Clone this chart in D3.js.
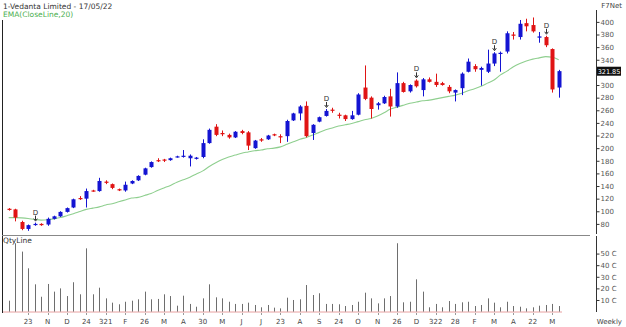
<!DOCTYPE html>
<html><head><meta charset="utf-8">
<script src="https://cdn.jsdelivr.net/npm/d3@7"></script>
<style>
body{margin:0;background:#fff;}
svg{display:block;font-family:"DejaVu Sans",Verdana,sans-serif;}
</style></head><body>
<svg id="c" width="626" height="327"></svg>
<script>
// ---- data (weekly candles, Vedanta) ----
const opens  = [104,103,83,72,79,80,79,88,92,99,106,121,120,133,132,147,143,135,133,144,149,158,170,181,182,181,186,187,184,183,186,208,234,224,221,217,227,225,200,214,214,222,219,219,244,255,267,224,242,251,261,253,252,246,253,296,280,268,271,282,266,303,290,307,292,309,305,303,297,288,295,321,330,324,321,334,350,353,380,376,398,395,375,376,357,296];
const highs  = [105,104,85,79,82,81,90,93,100,106,120,124,136,134,153,149,144,136,147,149,157,169,179,184,183,185,188,197,190,186,214,231,238,228,223,227,229,227,213,216,221,223,222,245,256,268,274,238,250,262,264,256,253,259,287,331,282,273,283,294,320,305,301,309,311,312,318,305,300,293,320,342,333,329,356,352,353,385,384,403,405,407,384,378,358,324];
const lows   = [101,84,70,69,77,77,77,87,91,98,105,118,106,131,131,143,135,132,131,143,148,157,169,178,178,180,185,185,171,182,184,207,219,219,215,216,222,197,199,210,213,219,208,210,243,244,217,213,241,250,256,247,243,245,252,276,247,261,270,250,264,288,288,296,282,304,297,299,287,274,284,320,321,299,319,330,321,350,372,372,385,383,367,360,288,280];
const closes = [103,90,72,78,80,78,88,92,99,105,119,120,132,132,148,145,137,133,142,148,156,168,178,180,181,184,187,188,188,185,208,229,221,222,217,226,224,204,212,212,220,221,217,243,255,266,219,237,249,259,260,252,246,252,285,278,262,271,281,266,303,289,300,298,309,305,300,300,290,292,318,337,325,327,334,350,351,382,378,397,393,385,377,363,293,322];
const volumes = [9.4,58.9,51.7,37.3,23.5,12.8,23.8,17.2,20,13.4,25.3,14.9,54.5,14.9,20.6,11.4,7.7,6.3,8.5,9.4,10.6,17.2,10.6,10.9,14.9,13.4,5.1,13.7,6.6,4.2,11.4,23.5,12.3,11.4,8.5,6.6,6.6,7.7,5.7,3.7,5.7,3.4,2.8,12,10,10.6,22.9,14.3,15.8,6.6,6.6,6.3,4.8,5.7,8.5,16.3,11.4,7.1,11.4,13.4,58.9,8,8.5,27.8,17.2,3.7,6.6,3.7,9.1,6.6,8,8.5,4.8,5.7,11.4,7.7,3.7,8.5,4.8,4.2,2.8,3.7,5.1,5.7,6.6,4.8];
const ema20 = [90,90,89.5,88.5,87,86,86.5,88,90,93,96,99.5,103,105,107,110,112,115,118,121,122,125,128,133,137,141,146,150,154,159,164,171,177,182,186,189,192,194,196,197,199,200,202,206,210,214,217,221,225,229,232,235,237,239,242,245,247,251,256,262,265,268,271,273,275,276,278,280,282,284,287,291,294,298,303,308,316,322,329,334,338,341,343,345,344,340];
const signalWeeks = [4,49,63,75,83];
const tickWeeks  = [3,6,9,12,15,18,21,24,27,30,33,36,39,42,45,48,51,54,57,60,63,66,69,72,75,78,81,84];
const tickLabels = ["23","N","D","24","321","F","26","M","A","30","M","J","J","23","A","S","24","O","N","26","D","322","28","F","M","A","22","M"];
// 320 is hidden behind the last-price box in the reference
const priceTicks = [80,100,120,140,160,180,200,220,240,260,280,300,340,360,380,400];
const volTicks = [10,20,30,40,50];
const lastPrice = "321.85";

const candles = opens.map((o,i)=>({i,o,h:highs[i],l:lows[i],c:closes[i],v:volumes[i],e:ema20[i]}));

const svg = d3.select("#c");
const x = d3.scaleLinear().domain([0,85]).range([8.7,558.7]);
const y = d3.scaleLinear().domain([64,422]).range([234,8]);
const yv = d3.scaleLinear().domain([0,66]).range([311.6,235]);
const BLUE="#1414d2", RED="#e01414";
const col = d=> d.c>=d.o ? BLUE : RED;

// frame
svg.append("line").attr("x1",2.5).attr("x2",2.5).attr("y1",20).attr("y2",313).attr("stroke","#222");
svg.append("line").attr("x1",2).attr("x2",590).attr("y1",235.5).attr("y2",235.5).attr("stroke","#888");

// title texts
svg.append("text").attr("x",3).attr("y",9).attr("font-size",7.5).attr("fill","#333").text("1-Vedanta Limited - 17/05/22");
svg.append("text").attr("x",3).attr("y",17).attr("font-size",7.5).attr("fill","#4caf50").text("EMA(CloseLine,20)");
svg.append("text").attr("x",622).attr("y",8).attr("font-size",7).attr("fill","#444").attr("text-anchor","end").text("F7Net");
svg.append("text").attr("x",3).attr("y",243).attr("font-size",7.5).attr("fill","#333").text("QtyLine");
svg.append("text").attr("x",622).attr("y",324).attr("font-size",7).attr("fill","#444").attr("text-anchor","end").text("Weekly");

// price axis
const ay = svg.append("g").attr("transform","translate(596.5,0)")
  .call(d3.axisRight(y).tickValues(priceTicks).tickSize(3).tickPadding(1));
ay.select(".domain").attr("stroke","#333").attr("d","M0,10V234");
ay.selectAll(".tick line").attr("stroke","#333");
ay.selectAll("text").attr("font-size",7).attr("fill","#555").attr("font-family","DejaVu Sans");

// volume axis
const av = svg.append("g").attr("transform","translate(596.5,0)")
  .call(d3.axisRight(yv).tickValues(volTicks).tickSize(3).tickPadding(1).tickFormat(d=>d+" C"));
av.select(".domain").attr("stroke","#333").attr("d","M0,236V312");
av.selectAll(".tick line").attr("stroke","#333");
av.selectAll("text").attr("font-size",7).attr("fill","#555").attr("font-family","DejaVu Sans");

// last price box
const lp = y(+lastPrice);
svg.append("rect").attr("x",597).attr("y",lp-4.5).attr("width",24).attr("height",9).attr("fill","#111");
svg.append("text").attr("x",609).attr("y",lp+2.5).attr("font-size",6.5).attr("fill","#fff").attr("text-anchor","middle").text(lastPrice);

// EMA line
svg.append("path").datum(candles)
  .attr("d", d3.line().x(d=>x(d.i)).y(d=>y(d.e)).curve(d3.curveMonotoneX))
  .attr("fill","none").attr("stroke","#8fcf8f").attr("stroke-width",1.1);

// candles
const g = svg.append("g");
g.selectAll("line.w").data(candles).join("line").attr("class","w")
  .attr("x1",d=>Math.round(x(d.i))+0.5).attr("x2",d=>Math.round(x(d.i))+0.5)
  .attr("y1",d=>y(d.h)).attr("y2",d=>y(d.l)).attr("stroke",col).attr("stroke-width",1);
g.selectAll("rect.b").data(candles).join("rect").attr("class","b")
  .attr("x",d=>Math.round(x(d.i))-1.5).attr("width",4)
  .attr("y",d=>y(Math.max(d.o,d.c)))
  .attr("height",d=>Math.max(1.2, Math.abs(y(d.o)-y(d.c))))
  .attr("fill",col);

// D signals
const sg = svg.append("g");
signalWeeks.forEach(i=>{
  const d=candles[i]; const cx=Math.round(x(d.i))+0.5; const top=y(d.h);
  sg.append("text").attr("x",cx).attr("y",top-8).attr("font-size",7).attr("fill","#333").attr("text-anchor","middle").text("D");
  sg.append("line").attr("x1",cx).attr("x2",cx).attr("y1",top-7).attr("y2",top-2.5).attr("stroke","#333");
  sg.append("path").attr("d",`M${cx-1.8},${top-4}L${cx},${top-1.5}L${cx+1.8},${top-4}`).attr("fill","none").attr("stroke","#333");
});

// volume bars
svg.append("line").attr("x1",3).attr("x2",562).attr("y1",312).attr("y2",312).attr("stroke","#e8a0a0");
svg.append("g").selectAll("line").data(candles).join("line")
  .attr("x1",d=>Math.round(x(d.i))+0.5).attr("x2",d=>Math.round(x(d.i))+0.5)
  .attr("y1",d=>yv(d.v)).attr("y2",yv(0)).attr("stroke","#6e6e6e").attr("stroke-width",1);

// x axis labels
const xl = svg.append("g");
tickWeeks.forEach((w,k)=>{
  const cx = x(w);
  xl.append("line").attr("x1",Math.round(cx)+0.5).attr("x2",Math.round(cx)+0.5).attr("y1",313).attr("y2",315).attr("stroke","#999");
  xl.append("text").attr("x",cx).attr("y",324).attr("font-size",7).attr("fill","#444").attr("text-anchor","middle").text(tickLabels[k]);
});
</script>
</body></html>
